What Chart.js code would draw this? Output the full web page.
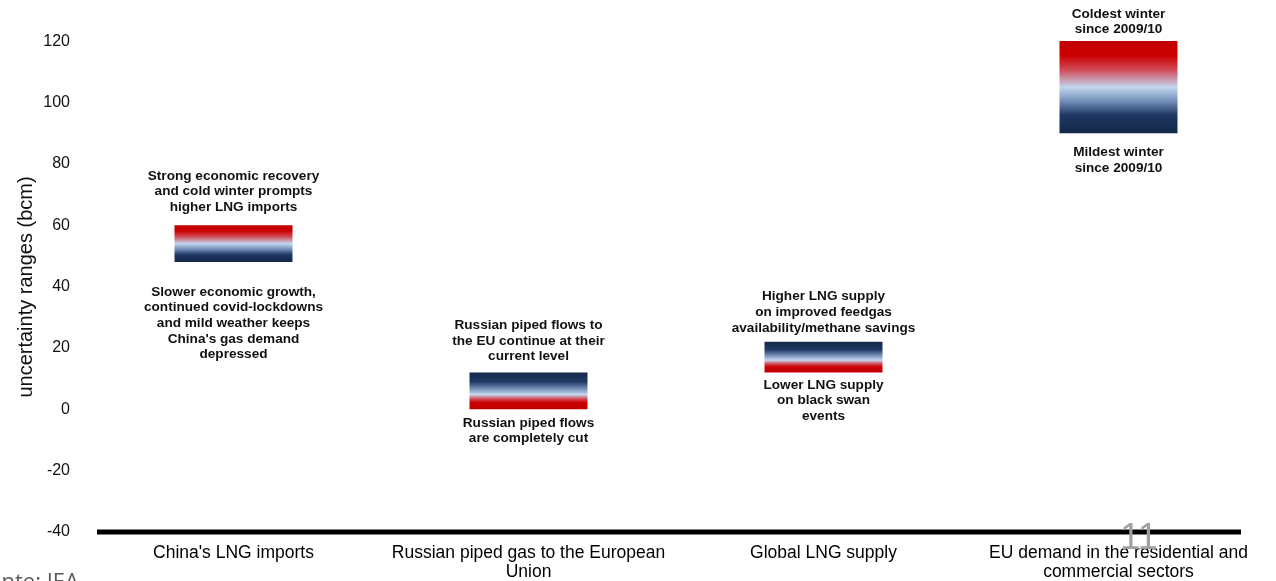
<!DOCTYPE html>
<html><head><meta charset="utf-8">
<script src="https://cdn.jsdelivr.net/npm/chart.js@4.4.0/dist/chart.umd.min.js"></script>
<style>html,body{margin:0;padding:0;background:#fff;overflow:hidden}#wrap{position:relative;width:1276px;height:581px}</style>
</head><body><div id="wrap"><canvas id="c" width="1276" height="581"></canvas></div>
<script>
// ---- data ----
const categories = [["China's LNG imports"], ["Russian piped gas to the European", "Union"], ["Global LNG supply"], ["EU demand in the residential and", "commercial sectors"]];
const rangeLow = [48, 0, 12, 90];
const rangeHigh = [60, 12, 22, 120];
const upperNotes = [
  ["Strong economic recovery", "and cold winter prompts", "higher LNG imports"],
  ["Russian piped flows to", "the EU continue at their", "current level"],
  ["Higher LNG supply", "on improved feedgas", "availability/methane savings"],
  ["Coldest winter", "since 2009/10"]
];
const lowerNotes = [
  ["Slower economic growth,", "continued covid-lockdowns", "and mild weather keeps", "China's gas demand", "depressed"],
  ["Russian piped flows", "are completely cut"],
  ["Lower LNG supply", "on black swan", "events"],
  ["Mildest winter", "since 2009/10"]
];
const yTicks = [-40, -20, 0, 20, 40, 60, 80, 100, 120];
const yTitle = "uncertainty ranges (bcm)";
const sourceNote = "Fonte: IEA";
const pageNumber = "11";

// ---- styles ----
const redOnTop = [true, false, false, true];
const gapAbove = [18, 16, 14, 11.5];
const gapBelow = [30, 13.5, 12.5, 19];
const FONT = "'Liberation Sans', Arial, sans-serif";

const stopsRedTop = [[0, '#c00000'], [0.16, '#cc0000'], [0.32, '#d0505e'], [0.5, '#c3d6ee'], [0.66, '#6d8bb4'], [0.8, '#1f3864'], [1, '#132849']];
const stopsNavyTop = [[0, '#132849'], [0.25, '#1f3864'], [0.45, '#7891b8'], [0.6, '#c5d8ee'], [0.72, '#d44a55'], [0.82, '#cc0000'], [1, '#c00000']];

function barFill(ctx) {
  const chart = ctx.chart;
  if (ctx.type !== 'data' || !chart.chartArea || !chart.scales.y) return '#888';
  const i = ctx.dataIndex;
  const y = chart.scales.y;
  const top = y.getPixelForValue(rangeHigh[i]);
  const bot = y.getPixelForValue(rangeLow[i]);
  const g = chart.ctx.createLinearGradient(0, top, 0, bot);
  (redOnTop[i] ? stopsRedTop : stopsNavyTop).forEach(s => g.addColorStop(s[0], s[1]));
  return g;
}

const extras = {
  id: 'extras',
  afterDatasetsDraw(chart) {
    const c = chart.ctx;
    const meta = chart.getDatasetMeta(0);
    c.save();
    c.fillStyle = '#111';
    c.font = "bold 13.6px " + FONT;
    c.textAlign = 'center';
    c.textBaseline = 'middle';
    const lh = 15.6;
    meta.data.forEach((el, i) => {
      const top = Math.min(el.y, el.base), bot = Math.max(el.y, el.base);
      const up = upperNotes[i];
      up.forEach((t, k) => {
        c.fillText(t, el.x, top - gapAbove[i] - (up.length - 1 - k) * lh);
      });
      lowerNotes[i].forEach((t, k) => {
        c.fillText(t, el.x, bot + gapBelow[i] + k * lh);
      });
    });
    c.restore();
  },
  afterDraw(chart) {
    const c = chart.ctx;
    const a = chart.chartArea;
    const yb = chart.scales.y.getPixelForValue(yTicks[0]);
    c.save();
    c.strokeStyle = '#000';
    c.lineWidth = 5;
    c.beginPath();
    c.moveTo(a.left + 11, yb);
    c.lineTo(a.right - 25, yb);
    c.stroke();
    // y-axis title
    c.save();
    c.translate(26, 287);
    c.rotate(-Math.PI / 2);
    c.fillStyle = '#111';
    c.font = "20px " + FONT;
    c.textAlign = 'center';
    c.textBaseline = 'middle';
    c.fillText(yTitle, 0, 0);
    c.restore();
    c.fillStyle = '#a0a0a0';
    c.font = "36px 'Liberation Sans', sans-serif";
    c.textAlign = 'center';
    c.textBaseline = 'alphabetic';
    c.fillText(pageNumber, 1139, 549);
    c.fillStyle = '#5a5a5a';
    c.font = "22px 'Open Sans', sans-serif";
    c.textAlign = 'right';
    c.textBaseline = 'alphabetic';
    c.fillText(sourceNote, 79, 589);
    c.restore();
  }
};

new Chart(document.getElementById('c'), {
  type: 'bar',
  data: {
    labels: categories,
    datasets: [{
      data: rangeLow.map((v, i) => [v, rangeHigh[i]]),
      backgroundColor: barFill,
      borderWidth: 0,
      barPercentage: 0.4,
      categoryPercentage: 1.0
    }]
  },
  options: {
    responsive: false,
    animation: false,
    devicePixelRatio: 1,
    layout: { padding: { left: 14, right: 10, top: 0, bottom: 0 } },
    plugins: { legend: { display: false }, tooltip: { enabled: false } },
    scales: {
      x: {
        grid: { display: false, drawTicks: false },
        border: { display: false },
        afterFit: (s) => { s.height = 49; s.paddingLeft = 0; s.paddingRight = 0; },
        ticks: { color: '#000', font: { family: FONT, size: 17.5, lineHeight: 1.12 }, padding: 11, maxRotation: 0, autoSkip: false }
      },
      y: {
        min: -40, max: 133.4,
        grid: { display: false, drawTicks: false },
        border: { display: false },
        afterBuildTicks: (s) => { s.ticks = yTicks.map(v => ({ value: v })); },
        afterFit: (s) => { s.width = 72; s.paddingTop = 0; s.paddingBottom = 0; },
        ticks: { color: '#111', font: { family: FONT, size: 16 }, padding: 16, includeBounds: false }
      }
    }
  },
  plugins: [extras]
});
</script></body></html>
